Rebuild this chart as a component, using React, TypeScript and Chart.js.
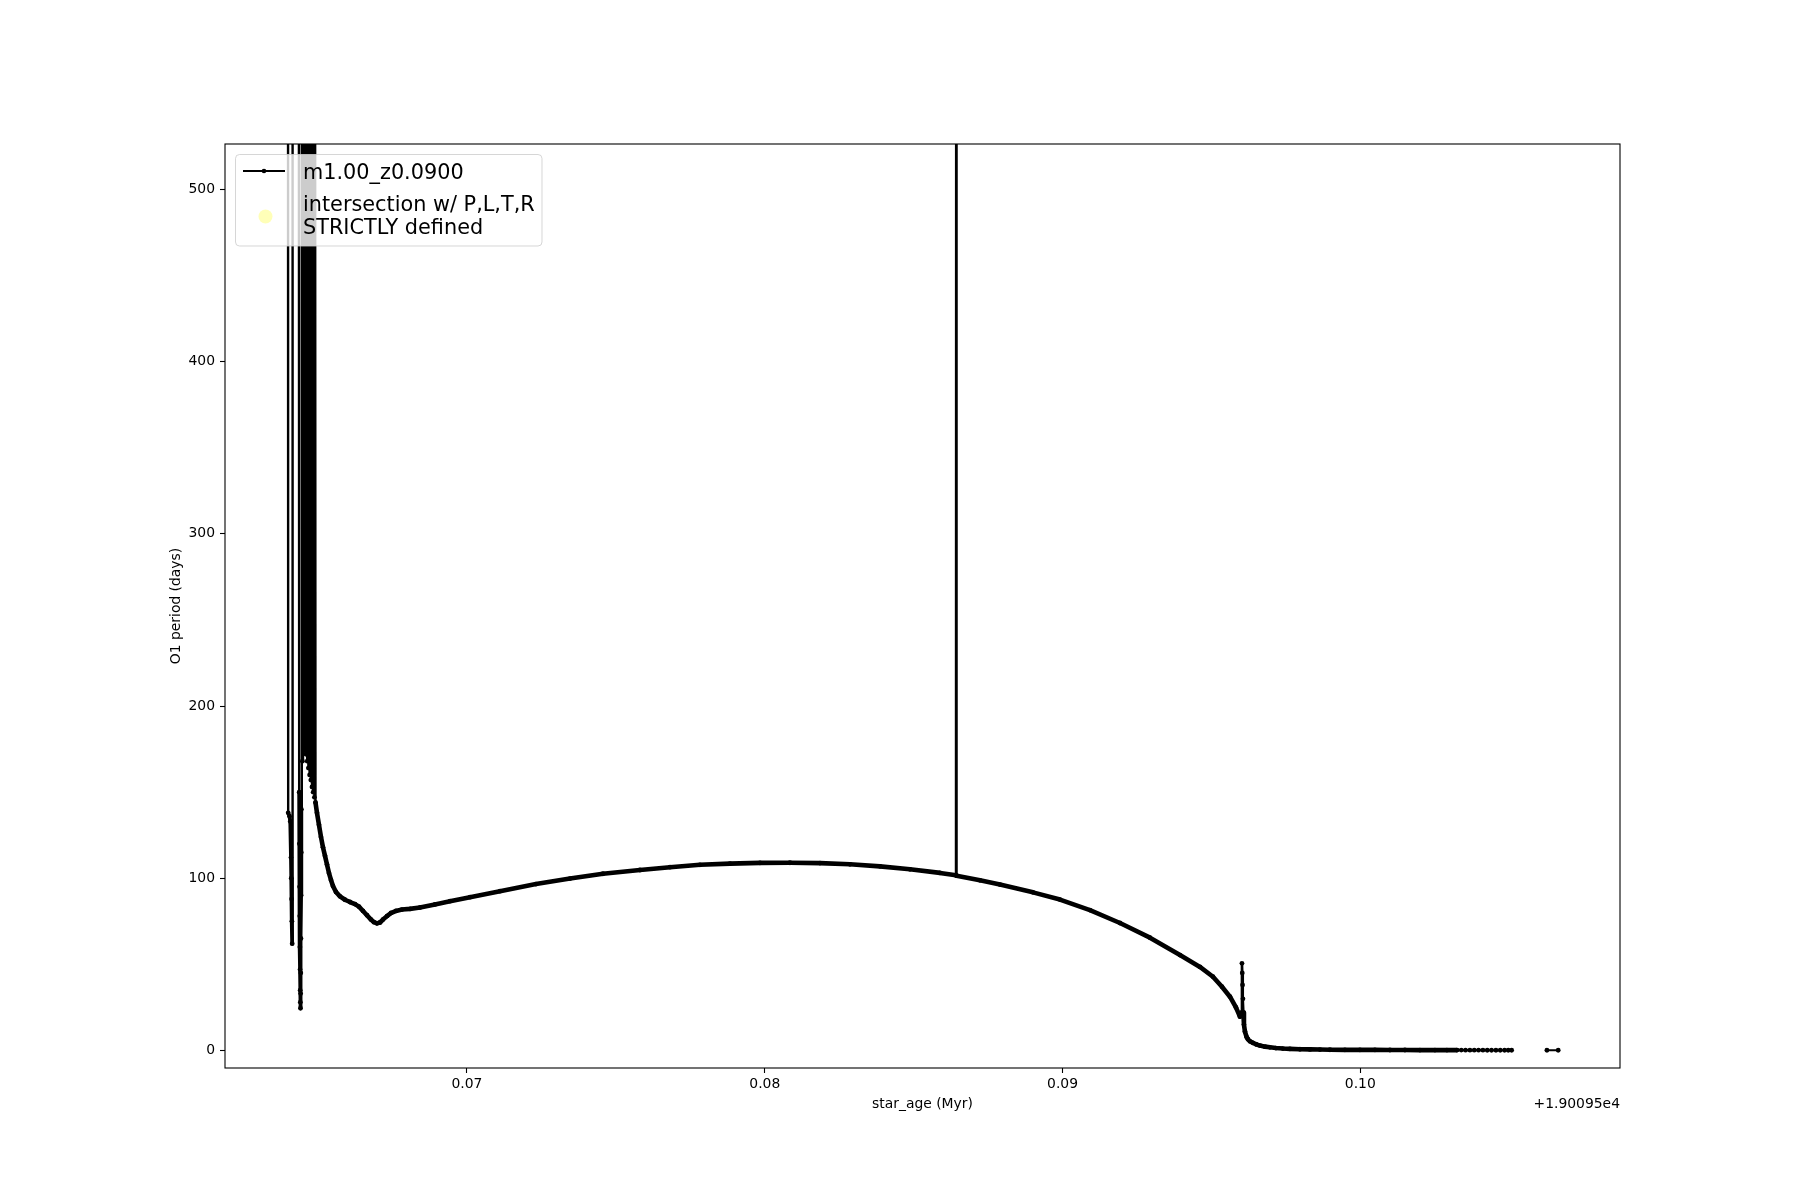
import React, { useEffect, useRef } from "react";
import { Chart, registerables } from "chart.js";

Chart.register(...registerables);

// ---- text ----
const SERIES_LABEL = "m1.00_z0.0900";
const INTERSECTION_LABEL = ["intersection w/ P,L,T,R", "STRICTLY defined"];
const X_TITLE = "star_age (Myr)";
const Y_TITLE = "O1 period (days)";
const OFFSET_LABEL = "+1.90095e4"; // star_age = value + 19009.5 Myr

// ---- axes ----
const X_TICKS = [0.07, 0.08, 0.09, 0.1];
const Y_TICKS = [0, 100, 200, 300, 400, 500];
const X_MIN = 0.061874;
const X_MAX = 0.10872;
const Y_MIN = -10.2;
const Y_MAX = 526.4;

// ---- data: star_age - 19009.5 (Myr) ----
const STAR_AGE = [
  0.063989, 0.063996, 0.06404, 0.064066, 0.06409, 0.0641, 0.06411, 0.06412,
  0.06413, 0.064144,
  0.064352, 0.064365, 0.064372, 0.064379, 0.064384, 0.064389, 0.064394, 0.064399,
  0.064404, 0.064409, 0.064414, 0.064419, 0.064424, 0.064429, 0.064434,
  0.064439, 0.064453, 0.064473, 0.064493, 0.064513, 0.064533, 0.064553, 0.064573,
  0.064594, 0.064614, 0.064634, 0.064654, 0.064674, 0.064694, 0.064715, 0.064735,
  0.064755, 0.064775, 0.064795, 0.064815, 0.064835, 0.064856, 0.064876, 0.064896,
  0.064913, 0.064963, 0.06503, 0.065097, 0.065164, 0.065232, 0.065299, 0.065366,
  0.065433, 0.0655, 0.065601, 0.065735, 0.065903, 0.066071, 0.066239, 0.066373,
  0.066508, 0.066642, 0.066776, 0.066877, 0.066978, 0.067079, 0.067179, 0.067314,
  0.067448, 0.067616, 0.067817, 0.068086, 0.068422, 0.068925, 0.069429, 0.070101,
  0.071108, 0.072317, 0.073459, 0.074567, 0.075809, 0.076817, 0.077824, 0.078832,
  0.079839, 0.080846, 0.081854, 0.082861, 0.083869, 0.084876, 0.085883, 0.086421,
  0.086431, 0.086441, 0.087227, 0.087898, 0.089006, 0.089913, 0.09092, 0.091928,
  0.092935, 0.093943, 0.094614, 0.095051, 0.095353, 0.095622, 0.095823, 0.095957,
  0.096008, 0.096025, 0.096035, 0.096045, 0.096058, 0.096072, 0.096092, 0.096125,
  0.096176, 0.096226, 0.096293, 0.096394, 0.096495, 0.096629, 0.096797, 0.096965,
  0.097166, 0.097401, 0.097636, 0.097972, 0.098308, 0.098644, 0.09898, 0.099483,
  0.099987, 0.100491, 0.100994, 0.101498, 0.102002, 0.102506, 0.102908, 0.103244,
  0.103389, 0.103533, 0.103681, 0.103825, 0.10397, 0.104117, 0.104262, 0.104406,
  0.104554, 0.104698, 0.104843, 0.104967, 0.105081, 0.1056, 0.106266, 0.106645,
];

// O1 period (days); null = undefined (gap in the track)
const O1_PERIOD: (number | null)[] = [
  700, 138, 136, 133, 112, 100, 88, 75,
  62, 700,
  700, 150, 120, 95, 78, 60, 47, 35,
  28, 24.5, 33, 45, 65, 90, 115,
  140, 700, 168, 700, 174, 700, 176, 700,
  172, 700, 168, 700, 164, 700, 160, 700,
  157, 700, 153, 700, 150, 700, 147, 700,
  144, 138, 131, 124, 118, 113, 108, 103,
  99, 95.5, 92, 89.5, 87.5, 86.2, 85, 83.5,
  81, 78.5, 76, 74.5, 73.8, 74.3, 76, 78,
  79.8, 81, 81.8, 82.2, 83, 84.8, 86.7, 89,
  92.5, 96.6, 99.8, 102.6, 104.8, 106.4, 107.8, 108.5,
  108.9, 109.0, 108.8, 108.1, 106.9, 105.2, 103.1, 101.7,
  900, 101.5, 98.8, 96.3, 91.8, 87.6, 81.5, 74,
  65.5, 55.4, 48.5, 42.8, 37, 31.2, 25, 19.6,
  22, 50.6, 45, 38, 30, 22, 15, 11,
  8, 6.5, 5.3, 4.4, 3.6, 2.8, 2.2, 1.8,
  1.4, 1.1, 0.9, 0.7, 0.6, 0.5, 0.4, 0.35,
  0.3, 0.3, 0.25, 0.25, 0.2, 0.2, 0.2, 0.2,
  0.2, 0.15, 0.15, 0.15, 0.15, 0.15, 0.1, 0.1,
  0.1, 0.1, 0.1, 0.1, 0.1, null, 0.1, 0.1,
];

// intersection points (none fall in this track)
const INTERSECTION_AGE: number[] = [];
const INTERSECTION_PERIOD: number[] = [];

const FONT = "DejaVu Sans";
const YELLOW = "rgba(255,255,0,0.28)";

const decorPlugin = {
  id: "decor",
  afterDatasetsDraw(chart: any) {
    const ctx: CanvasRenderingContext2D = chart.ctx;
    const a = chart.chartArea;
    ctx.save();
    // legend box
    const lx = a.left + 10.5, ly = a.top + 10.5, lw = 306.5, lh = 91.5, r = 4;
    ctx.beginPath();
    ctx.moveTo(lx + r, ly);
    ctx.lineTo(lx + lw - r, ly);
    ctx.quadraticCurveTo(lx + lw, ly, lx + lw, ly + r);
    ctx.lineTo(lx + lw, ly + lh - r);
    ctx.quadraticCurveTo(lx + lw, ly + lh, lx + lw - r, ly + lh);
    ctx.lineTo(lx + r, ly + lh);
    ctx.quadraticCurveTo(lx, ly + lh, lx, ly + lh - r);
    ctx.lineTo(lx, ly + r);
    ctx.quadraticCurveTo(lx, ly, lx + r, ly);
    ctx.closePath();
    ctx.fillStyle = "rgba(255,255,255,0.8)";
    ctx.fill();
    ctx.strokeStyle = "rgba(204,204,204,0.8)";
    ctx.lineWidth = 1;
    ctx.stroke();
    // entry 1 handle
    ctx.strokeStyle = "#000";
    ctx.lineWidth = 2.1;
    ctx.beginPath();
    ctx.moveTo(a.left + 18, a.top + 27);
    ctx.lineTo(a.left + 60, a.top + 27);
    ctx.stroke();
    ctx.fillStyle = "#000";
    ctx.beginPath();
    ctx.arc(a.left + 39, a.top + 27, 2.3, 0, Math.PI * 2);
    ctx.fill();
    // entry 2 handle
    ctx.fillStyle = YELLOW;
    ctx.beginPath();
    ctx.arc(a.left + 40.5, a.top + 72.5, 7, 0, Math.PI * 2);
    ctx.fill();
    // texts
    ctx.fillStyle = "#000";
    ctx.font = `20.8px "${FONT}"`;
    ctx.textAlign = "left";
    ctx.textBaseline = "alphabetic";
    ctx.fillText(SERIES_LABEL, a.left + 78, a.top + 35);
    ctx.fillText(INTERSECTION_LABEL[0], a.left + 78, a.top + 66.5);
    ctx.fillText(INTERSECTION_LABEL[1], a.left + 78, a.top + 89.5);
    ctx.restore();
  },
  afterDraw(chart: any) {
    const ctx: CanvasRenderingContext2D = chart.ctx;
    const a = chart.chartArea;
    ctx.save();
    ctx.strokeStyle = "#000";
    ctx.lineWidth = 1.1;
    ctx.strokeRect(a.left, a.top, a.right - a.left, a.bottom - a.top);
    ctx.fillStyle = "#000";
    ctx.font = `13.9px "${FONT}"`;
    ctx.textBaseline = "alphabetic";
    ctx.textAlign = "center";
    ctx.fillText(X_TITLE, (a.left + a.right) / 2, a.bottom + 40);
    ctx.textAlign = "right";
    ctx.fillText(OFFSET_LABEL, a.right, a.bottom + 40);
    ctx.translate(a.left - 45, (a.top + a.bottom) / 2);
    ctx.rotate(-Math.PI / 2);
    ctx.textAlign = "center";
    ctx.fillText(Y_TITLE, 0, 0);
    ctx.restore();
  },
};

export default function App() {
  const ref = useRef<HTMLCanvasElement>(null);
  useEffect(() => {
    const canvas = ref.current!;
    const points = STAR_AGE.map((x, i) => ({ x, y: O1_PERIOD[i] }));
    const inter = INTERSECTION_AGE.map((x, i) => ({ x, y: INTERSECTION_PERIOD[i] }));
    const tickFont = { family: FONT, size: 13.9 };
    const chart = new Chart(canvas, {
      type: "line",
      data: {
        datasets: [
          {
            label: SERIES_LABEL,
            data: points as any,
            borderColor: "#000",
            backgroundColor: "#000",
            borderWidth: 4.6,
            borderJoinStyle: "round",
            borderCapStyle: "round",
            pointRadius: 2.4,
            pointBorderWidth: 0,
            pointHoverRadius: 0,
            tension: 0,
            spanGaps: false,
            clip: 0 as any,
            segment: {
              borderWidth: (c: any) => {
                const y0 = c.p0.parsed.y;
                const y1 = c.p1.parsed.y;
                const x0 = c.p0.parsed.x;
                if (Math.abs(y1 - y0) > 150) return 2.4;
                if (x0 < 0.06446) return 3.8;
                if (x0 > 0.096 && x0 < 0.09607) return 2.6;
                if (x0 > 0.1032) return 2.2;
                return 4.6;
              },
            },
          },
          {
            type: "scatter" as any,
            label: INTERSECTION_LABEL.join(" "),
            data: inter as any,
            backgroundColor: YELLOW,
            pointRadius: 7,
          },
        ],
      },
      options: {
        responsive: false,
        animation: false,
        devicePixelRatio: 1,
        events: [],
        layout: { padding: { top: 144, right: 180, left: 0, bottom: 0 } },
        plugins: { legend: { display: false }, tooltip: { enabled: false } },
        scales: {
          x: {
            type: "linear",
            min: X_MIN,
            max: X_MAX,
            afterBuildTicks: (s: any) => {
              s.ticks = X_TICKS.map((v) => ({ value: v }));
            },
            afterFit: (s: any) => {
              s.height = 132;
            },
            ticks: {
              callback: (v: any) => Number(v).toFixed(2),
              font: tickFont,
              color: "#000",
              padding: 3,
              maxRotation: 0,
              autoSkip: false,
            },
            grid: {
              display: true,
              drawOnChartArea: false,
              drawTicks: true,
              tickLength: 5,
              tickWidth: 1.1,
              tickColor: "#000",
            },
            border: { display: false },
          },
          y: {
            type: "linear",
            min: Y_MIN,
            max: Y_MAX,
            afterBuildTicks: (s: any) => {
              s.ticks = Y_TICKS.map((v) => ({ value: v }));
            },
            afterFit: (s: any) => {
              s.width = 225;
            },
            ticks: {
              callback: (v: any) => String(v),
              font: tickFont,
              color: "#000",
              padding: 5,
              autoSkip: false,
            },
            grid: {
              display: true,
              drawOnChartArea: false,
              drawTicks: true,
              tickLength: 5,
              tickWidth: 1.1,
              tickColor: "#000",
            },
            border: { display: false },
          },
        },
      },
      plugins: [decorPlugin],
    });
    return () => chart.destroy();
  }, []);
  return (
    <div style={{ position: "absolute", left: 0, top: 0, width: 1800, height: 1200, background: "#fff" }}>
      <canvas ref={ref} width={1800} height={1200} style={{ display: "block", width: 1800, height: 1200 }} />
    </div>
  );
}
